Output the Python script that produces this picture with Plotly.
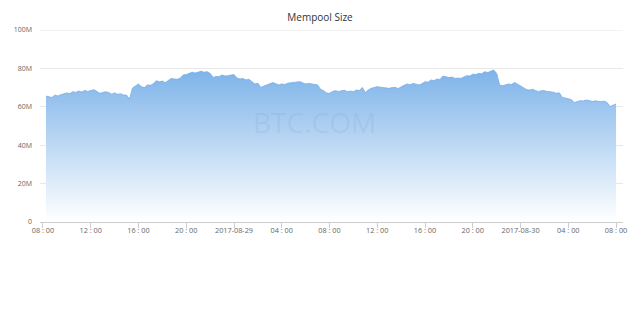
import pandas as pd
import plotly.graph_objects as go

# Mempool size (millions of bytes), every 15 minutes from 2017-08-28 08:15
start_time = "2017-08-28 08:15"
mempool_m = [
    65.6, 65.0, 64.8,
    66.1, 65.6, 66.3, 66.8,
    67.2, 66.9, 67.9, 67.5,
    68.2, 67.7, 68.5, 68.0,
    68.4, 68.9, 68.1, 67.0,
    67.4, 67.8, 67.5, 66.6,
    67.2, 66.5, 66.8, 66.1,
    66.1, 64.0, 69.8, 71.0,
    71.9, 70.4, 70.0, 71.4,
    71.2, 72.0, 73.6, 73.0,
    73.4, 72.6, 73.8, 74.8,
    74.5, 74.3, 75.0, 76.6,
    76.8, 77.5, 78.0, 77.6,
    77.9, 78.5, 78.0, 78.3,
    77.4, 75.3, 75.8, 75.7,
    76.6, 76.0, 76.2, 76.6,
    76.8, 75.0, 74.5, 74.8,
    74.0, 74.3, 73.1, 71.9,
    72.3, 70.1, 70.8, 71.4,
    72.1, 72.6, 72.0, 71.4,
    71.9, 71.6, 72.3, 72.6,
    72.6, 72.9, 73.1, 72.5,
    71.9, 72.2, 71.9, 71.5,
    71.4, 69.1, 68.4, 67.2,
    67.0, 68.0, 68.4, 68.0,
    68.4, 68.6, 67.9, 68.2,
    67.9, 68.7, 68.5, 70.1,
    67.4, 68.8, 69.6, 70.0,
    70.5, 70.2, 70.1, 69.8,
    69.6, 70.0, 70.1, 69.5,
    70.5, 71.2, 71.9, 71.5,
    72.2, 71.8, 71.4, 72.0,
    73.1, 72.8, 74.0, 73.6,
    74.5, 74.2, 76.0, 75.6,
    75.2, 75.5, 74.8, 75.0,
    74.8, 75.5, 76.2, 76.0,
    77.0, 76.8, 77.4, 77.2,
    78.3, 77.8, 78.6, 79.2,
    77.4, 71.4, 71.0, 71.4,
    71.9, 71.6, 72.6, 71.8,
    70.8, 69.6, 69.0, 68.7,
    69.1, 68.5, 67.9, 68.4,
    68.4, 68.0, 67.9, 67.6,
    67.0, 67.3, 64.9, 64.6,
    64.4, 63.8, 62.2, 62.6,
    63.2, 63.0, 63.5, 63.3,
    62.7, 63.1, 63.0, 62.6,
    63.0, 62.2, 60.1, 60.8,
    61.5,
]

x_tick_values = pd.date_range("2017-08-28 08:00", "2017-08-30 08:00", freq="4h")
x_tick_labels = ["08 : 00", "12 : 00", "16 : 00", "20 : 00", "2017-08-29", "04 : 00",
                 "08 : 00", "12 : 00", "16 : 00", "20 : 00", "2017-08-30", "04 : 00", "08 : 00"]
y_tick_values = [0, 20e6, 40e6, 60e6, 80e6, 100e6]
y_tick_labels = ["0", "20M", "40M", "60M", "80M", "100M"]

times = pd.date_range(start_time, periods=len(mempool_m), freq="15min")
values = [v * 1e6 for v in mempool_m]

fig = go.Figure()
fig.add_trace(go.Scatter(
    x=times, y=values, mode="lines",
    line=dict(color="rgb(118,172,230)", width=0.8),
    fill="tozeroy",
    fillgradient=dict(type="vertical",
                      colorscale=[[0, "rgba(255,255,255,1)"], [1, "rgb(124,178,233)"]],
                      start=0, stop=80e6),
    hoverinfo="skip", showlegend=False,
))

# top gridline (at the edge of the axis range)
fig.add_hline(y=y_tick_values[-1], line=dict(color="#e8e8e8", width=1), layer="below")

fig.add_annotation(text="BTC.COM", x=0.47, y=0.52, xref="paper", yref="paper",
                   showarrow=False,
                   font=dict(family="Open Sans", size=28, color="rgba(110,140,180,0.13)"))

fig.update_layout(
    width=640, height=314,
    margin=dict(l=40, r=17, t=30, b=92),
    paper_bgcolor="white", plot_bgcolor="white",
    title=dict(text="Mempool Size", x=0.5, xanchor="center", y=0.945, yanchor="middle",
               font=dict(family="Open Sans", size=10, color="#333")),
    xaxis=dict(
        range=[pd.Timestamp("2017-08-28 07:45"), pd.Timestamp("2017-08-30 08:35")],
        tickvals=x_tick_values, ticktext=x_tick_labels,
        showgrid=False, zeroline=False,
        showline=True, linecolor="#cccccc", linewidth=1,
        ticks="outside", ticklen=5, tickcolor="#cccccc",
        ticklabelstandoff=-4,
        tickfont=dict(family="Open Sans", size=7.3, color="#666"),
    ),
    yaxis=dict(
        range=[0, 100e6],
        tickvals=y_tick_values, ticktext=y_tick_labels,
        showgrid=True, gridcolor="#e8e8e8", gridwidth=1,
        zeroline=False, showline=False, ticks="",
        ticklabelstandoff=7,
        tickfont=dict(family="Open Sans", size=7, color="#666"),
    ),
)

fig.write_html("out.html")
